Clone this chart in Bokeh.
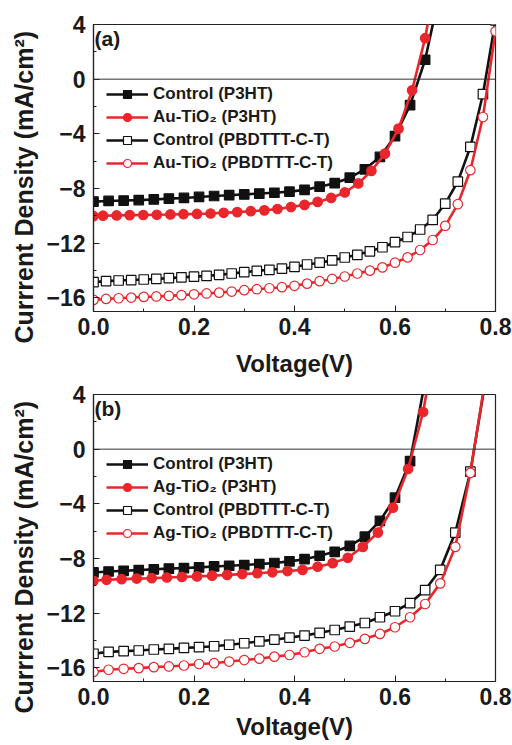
from bokeh.plotting import figure
from bokeh.models import (Range1d, SingleIntervalTicker, Span, Legend, LegendItem, Label,
                          PrintfTickFormatter, Title)
from bokeh.layouts import column
from bokeh.embed import file_html
from bokeh.resources import INLINE

# ---------------- data: panel (a) ----------------
a_ctrl_p3ht_v = [0.00, 0.03, 0.06, 0.09, 0.12, 0.15, 0.18, 0.21, 0.24, 0.27, 0.30, 0.33,
                 0.36, 0.39, 0.42, 0.45, 0.48, 0.51, 0.54, 0.57, 0.60, 0.63, 0.66, 0.69]
a_ctrl_p3ht_j = [-8.96, -8.91, -8.88, -8.85, -8.80, -8.74, -8.69, -8.62, -8.55, -8.49, -8.43, -8.37,
                 -8.31, -8.23, -8.10, -7.87, -7.61, -7.21, -6.60, -5.69, -4.17, -1.90, 1.42, 6.5]

a_au_p3ht_v = [0.000, 0.019, 0.046, 0.072, 0.099, 0.126, 0.153, 0.179, 0.206, 0.233, 0.259, 0.286,
               0.313, 0.340, 0.366, 0.393, 0.420, 0.446, 0.473, 0.500, 0.527, 0.553, 0.580, 0.607,
               0.634, 0.660, 0.687]
a_au_p3ht_j = [-10.02, -9.99, -9.97, -9.95, -9.94, -9.92, -9.90, -9.88, -9.86, -9.83, -9.78, -9.73,
               -9.66, -9.60, -9.50, -9.36, -9.20, -8.98, -8.69, -8.29, -7.63, -6.71, -5.45, -3.62,
               -0.82, 3.00, 8.5]

a_ctrl_pb_v = [0.000, 0.025, 0.050, 0.075, 0.100, 0.125, 0.150, 0.175, 0.200, 0.225, 0.250, 0.275,
               0.300, 0.325, 0.350, 0.375, 0.400, 0.425, 0.450, 0.475, 0.500, 0.525, 0.550, 0.575,
               0.600, 0.625, 0.650, 0.675, 0.700, 0.725, 0.750, 0.775, 0.800]
a_ctrl_pb_j = [-14.85, -14.78, -14.73, -14.70, -14.66, -14.62, -14.56, -14.50, -14.45, -14.40, -14.32, -14.22,
               -14.12, -14.03, -13.95, -13.87, -13.74, -13.56, -13.43, -13.26, -13.05, -12.85, -12.60, -12.30,
               -11.93, -11.55, -11.00, -10.30, -9.10, -7.50, -4.96, -1.10, 4.3]

a_au_pb_v = a_ctrl_pb_v
a_au_pb_j = [-16.15, -16.08, -16.03, -15.98, -15.93, -15.90, -15.86, -15.80, -15.74, -15.68, -15.62, -15.54,
             -15.44, -15.37, -15.30, -15.22, -15.12, -14.96, -14.78, -14.62, -14.44, -14.22, -14.01, -13.77,
             -13.43, -13.04, -12.50, -11.77, -10.73, -9.15, -6.66, -2.77, 3.5]

# ---------------- data: panel (b) ----------------
b_ctrl_p3ht_v = [0.00, 0.03, 0.06, 0.09, 0.12, 0.15, 0.18, 0.21, 0.24, 0.27, 0.30, 0.33,
                 0.36, 0.39, 0.42, 0.45, 0.48, 0.51, 0.54, 0.57, 0.60, 0.63, 0.66]
b_ctrl_p3ht_j = [-9.02, -8.95, -8.90, -8.85, -8.79, -8.74, -8.70, -8.65, -8.58, -8.53, -8.48, -8.41,
                 -8.33, -8.21, -8.05, -7.80, -7.51, -7.08, -6.40, -5.25, -3.55, -0.88, 5.0]

b_ag_p3ht_v = [0.000, 0.026, 0.056, 0.086, 0.116, 0.146, 0.176, 0.206, 0.236, 0.266, 0.296, 0.326,
               0.356, 0.386, 0.416, 0.446, 0.476, 0.506, 0.536, 0.566, 0.596, 0.626, 0.656, 0.686]
b_ag_p3ht_j = [-9.63, -9.56, -9.51, -9.47, -9.44, -9.39, -9.35, -9.31, -9.26, -9.20, -9.14, -9.08,
               -9.01, -8.92, -8.83, -8.60, -8.34, -7.95, -7.15, -6.10, -4.28, -1.45, 2.72, 9.0]

b_ctrl_pb_v = [0.00, 0.03, 0.06, 0.09, 0.12, 0.15, 0.18, 0.21, 0.24, 0.27, 0.30, 0.33, 0.36, 0.39,
               0.42, 0.45, 0.48, 0.51, 0.54, 0.57, 0.60, 0.63, 0.66, 0.69, 0.72, 0.75, 0.78]
b_ctrl_pb_j = [-14.97, -14.83, -14.78, -14.73, -14.66, -14.61, -14.54, -14.49, -14.42, -14.31, -14.20, -14.06,
               -13.94, -13.79, -13.64, -13.44, -13.23, -12.98, -12.72, -12.30, -11.86, -11.26, -10.31, -8.83,
               -6.10, -1.65, 5.0]

b_ag_pb_v = b_ctrl_pb_v
b_ag_pb_j = [-16.30, -16.14, -16.07, -16.02, -15.95, -15.90, -15.83, -15.72, -15.66, -15.54, -15.43, -15.33,
             -15.18, -15.06, -14.86, -14.61, -14.44, -14.17, -13.88, -13.52, -13.03, -12.30, -11.33, -9.82,
             -7.15, -1.73, 5.2]

x_label = "Voltage(V)"
y_label = "Currrent Density (mA/cm\u00b2)"
labels_a = ["Control (P3HT)", "Au-TiO\u2082 (P3HT)", "Control (PBDTTT-C-T)", "Au-TiO\u2082 (PBDTTT-C-T)"]
labels_b = ["Control (P3HT)", "Ag-TiO\u2082 (P3HT)", "Control (PBDTTT-C-T)", "Ag-TiO\u2082 (PBDTTT-C-T)"]

BLACK = "#111111"
RED = "#e8262b"
FONT = "Liberation Sans"


def make_panel(tag, series, labels, height, top, bottom, xl_standoff):
    p = figure(width=512, height=height, output_backend="svg", toolbar_location=None,
               x_range=Range1d(0, 0.8), y_range=Range1d(-17, 4),
               min_border_left=93, min_border_right=17, min_border_top=top, min_border_bottom=bottom)
    p.background_fill_color = "white"
    p.border_fill_color = "white"
    p.xgrid.visible = False
    p.ygrid.visible = False
    p.outline_line_color = "#222222"
    p.outline_line_width = 1.2

    p.xaxis.ticker = SingleIntervalTicker(interval=0.2, num_minor_ticks=2)
    p.xaxis.formatter = PrintfTickFormatter(format="%.1f")
    p.yaxis.ticker = SingleIntervalTicker(interval=4, num_minor_ticks=2)
    for ax in (p.xaxis[0], p.yaxis[0]):
        ax.axis_line_color = "#222222"
        ax.axis_line_width = 1.2
        ax.major_tick_in = 6
        ax.major_tick_out = 0
        ax.minor_tick_in = 3
        ax.minor_tick_out = 0
        ax.major_tick_line_color = "#222222"
        ax.minor_tick_line_color = "#222222"
        ax.major_label_text_font = FONT
        ax.major_label_text_font_style = "bold"
        ax.major_label_text_font_size = "23px"
        ax.major_label_text_color = "#1a1a1a"
        ax.axis_label_text_font = FONT
        ax.axis_label_text_font_style = "bold"
        ax.axis_label_text_font_size = "24px"
        ax.axis_label_text_color = "#1a1a1a"
    p.xaxis.major_label_standoff = 6
    p.yaxis.major_label_standoff = 8
    p.xaxis.axis_label = x_label
    p.xaxis.axis_label_standoff = xl_standoff

    # y-axis title as a side title, anchored a little below the frame bottom as in the source
    p.add_layout(Title(text=y_label, align="left", offset=-32, standoff=12,
                       text_font=FONT, text_font_style="bold", text_font_size="25px",
                       text_color="#1a1a1a"), "left")

    p.add_layout(Span(location=0, dimension="width", line_color="#333333", line_width=1))

    items = []
    for (v, j, color, marker, filled), lab in zip(series, labels):
        ln = p.line(v, j, line_color=color, line_width=2.6)
        sc = p.scatter(v, j, marker=marker, size=9.5,
                       fill_color=color if filled else "white",
                       line_color=color, line_width=1.2)
        items.append(LegendItem(label=lab, renderers=[ln, sc]))

    leg = Legend(items=items, location=(13, 138), padding=0, margin=0, spacing=3,
                 glyph_width=42, glyph_height=20, label_height=20, label_standoff=5,
                 label_text_font=FONT, label_text_font_style="bold", label_text_font_size="17px",
                 label_text_color="#1a1a1a", border_line_color=None, background_fill_alpha=0)
    p.add_layout(leg)

    p.add_layout(Label(x=0.002, y=3.8, text=tag, text_baseline="top", text_align="left",
                       text_font=FONT, text_font_style="bold", text_font_size="21px",
                       text_color="#1a1a1a"))
    return p


series_a = [(a_ctrl_p3ht_v, a_ctrl_p3ht_j, BLACK, "square", True),
            (a_au_p3ht_v, a_au_p3ht_j, RED, "circle", True),
            (a_ctrl_pb_v, a_ctrl_pb_j, BLACK, "square", False),
            (a_au_pb_v, a_au_pb_j, RED, "circle", False)]
series_b = [(b_ctrl_p3ht_v, b_ctrl_p3ht_j, BLACK, "square", True),
            (b_ag_p3ht_v, b_ag_p3ht_j, RED, "circle", True),
            (b_ctrl_pb_v, b_ctrl_pb_j, BLACK, "square", False),
            (b_ag_pb_v, b_ag_pb_j, RED, "circle", False)]

pa = make_panel("(a)", series_a, labels_a, 382, 24, 71, 12)
pb = make_panel("(b)", series_b, labels_b, 363, 12, 64, 5)

layout = column(pa, pb, spacing=0)
open("out.html", "w").write(file_html(layout, INLINE))
